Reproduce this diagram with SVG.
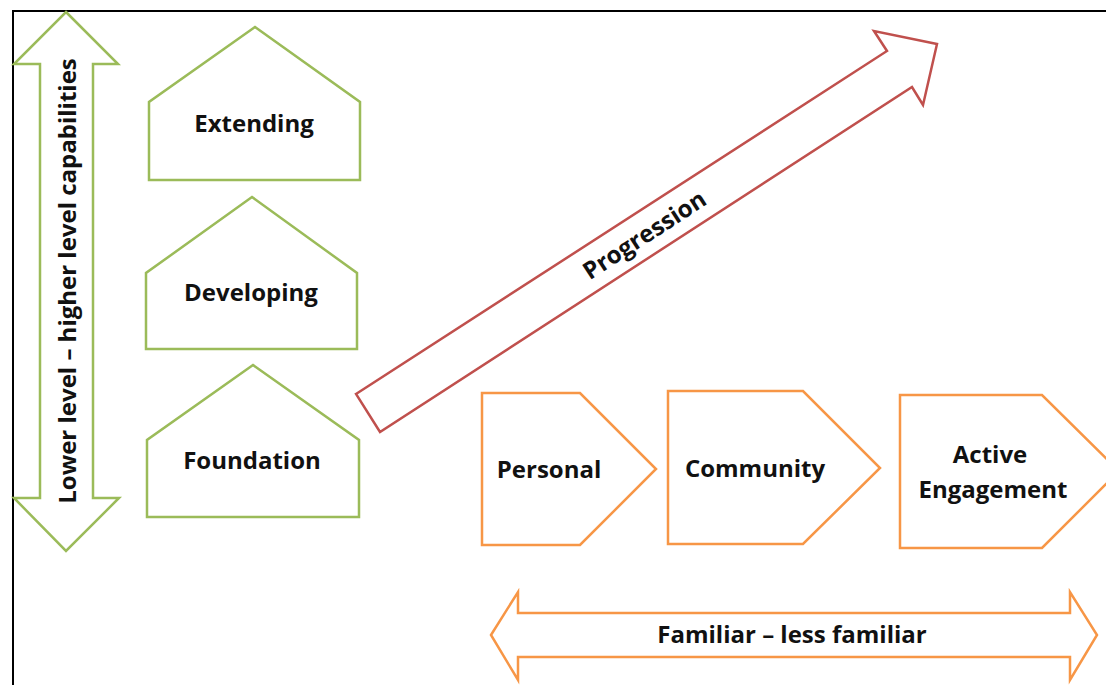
<svg xmlns="http://www.w3.org/2000/svg" width="1106" height="685" viewBox="0 0 1106 685">
<style>
.g{fill:#fff;stroke:#9bbb59;stroke-width:2.5;stroke-linejoin:miter}
.o{fill:#fff;stroke:#f79646;stroke-width:2.5;stroke-linejoin:miter}
.r{fill:#fff;stroke:#c0504d;stroke-width:2.5;stroke-linejoin:miter}
.t{font-family:"Open Sans","Noto Sans","Liberation Sans",sans-serif;font-weight:bold;font-size:24px;fill:#111;text-anchor:middle}
</style>
<rect width="1106" height="685" fill="#fff"/>
<path d="M13,685 V11 H1106" fill="none" stroke="#000" stroke-width="2"/>
<g id="connectors">
<g id="vertical-scale">
<polygon class="g" points="66,12 118,64 93,64 93,498 119,498 66,551 14,498 40,498 40,64 14,64"/>
<text class="t" transform="translate(76,281) rotate(-90)">Lower level – higher level capabilities</text>
</g>
<g id="progression">
<polygon class="r" points="356,394 887,51 874,31 937,44 923,105 912,87 380,432"/>
<text class="t" transform="translate(649,242) rotate(-33)">Progression</text>
</g>
<g id="familiarity-scale">
<polygon class="o" points="491,635 518,592 518,613 1070,613 1070,592 1097,635 1070,680 1070,657 518,657 518,680"/>
<text class="t" x="792" y="643">Familiar – less familiar</text>
</g>
</g>
<g id="extending">
<polygon class="g" points="255,27 360,102 360,180 149,180 149,102"/>
<text class="t" x="254" y="132">Extending</text>
</g>
<g id="developing">
<polygon class="g" points="252,197 357,273 357,349 146,349 146,273"/>
<text class="t" x="251" y="301">Developing</text>
</g>
<g id="foundation">
<polygon class="g" points="253,365 359,440 359,517 147,517 147,440"/>
<text class="t" x="252" y="469">Foundation</text>
</g>
<g id="personal">
<polygon class="o" points="482,393 580,393 656,469 580,545 482,545"/>
<text class="t" x="549" y="478">Personal</text>
</g>
<g id="community">
<polygon class="o" points="668,391 803,391 880,468 803,544 668,544"/>
<text class="t" x="755" y="477">Community</text>
</g>
<g id="active-engagement">
<polygon class="o" points="900,395 1042,395 1119,471 1042,548 900,548"/>
<text class="t" x="990" y="463">Active</text>
<text class="t" x="993" y="498">Engagement</text>
</g>
</svg>
